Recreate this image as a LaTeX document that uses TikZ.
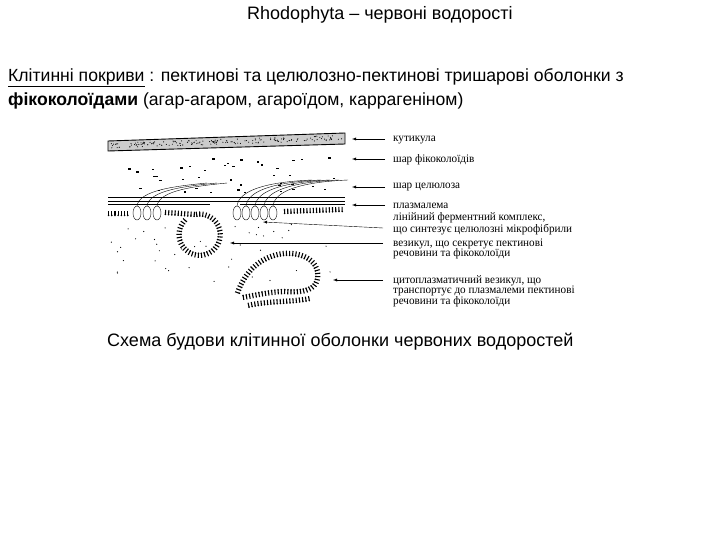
\documentclass[tikz,border=0pt]{standalone}
\usepackage{fontspec}
\setmainfont{Liberation Sans}
\newfontfamily\lab{Liberation Serif}
\usetikzlibrary{decorations.markings}
\begin{document}
\begin{tikzpicture}[x=1pt,y=-1pt,
  lbl/.style={anchor=west,font=\lab\fontsize{11.5}{10.5}\selectfont,align=left,inner sep=0,xscale=0.97},
  arr/.style={-latex,thin},
  txt/.style={anchor=west,font=\fontsize{17.6}{20}\selectfont,inner sep=0},
  ticks/.style={decorate,decoration={markings,mark=between positions 0 and 1 step 3.2pt with {\fill (0,-2.2pt) rectangle (1.1pt,2.2pt); \fill (0.55pt,-2.4pt) circle (0.9pt);}}}]
\useasboundingbox (0,0) rectangle (720,540);
\node[font=\fontsize{18}{20}\selectfont] (title) at (380,15) {Rhodophyta – червоні водорості};
\node[txt] (l1) at (8,78) {\underline{Клітинні покриви} : пектинові та целюлозно-пектинові тришарові оболонки з};
\node[txt] (l2) at (8,101) {\textbf{фікоколоїдами} (агар-агаром, агароїдом, каррагеніном)};
\node[txt,font=\fontsize{18}{20}\selectfont] (cap) at (107,342) {Схема будови клітинної оболонки червоних водоростей};
% cuticle
\draw[line width=0.9pt,fill=black!20] (108,141) -- (345,133) -- (345,144) -- (108,151) -- cycle;
\foreach \i in {0,...,160}{\pgfmathsetmacro\xx{110+rnd*233}\pgfmathsetmacro\yy{143+rnd*5-(\xx-108)*0.033}\fill (\xx,\yy) circle (0.55);}
% phycocolloid dashes
\foreach \i in {0,...,40}{\pgfmathsetmacro\xx{110+rnd*235}\pgfmathsetmacro\yy{157+rnd*35}\fill (\xx,\yy) rectangle +(2.5,1.2);}
% cellulose lines
\draw (108,197) -- (345,197);
\draw (108,201) -- (345,201);
\draw (108,204) -- (210,204);
\draw (240,204) -- (345,204);
% ovals
\foreach \x in {137,147,157}{\draw (\x,213) ellipse (4 and 7); \draw (\x,206) .. controls (\x+2,190) and (\x+40,186) .. (\x+70,183);}
\foreach \x in {237,246,255,264,273}{\draw (\x,213) ellipse (4 and 7); \draw (\x,206) .. controls (\x+2,190) and (\x+30,182) .. (\x+75,180);}
% plasmalemma ticks
\draw[ticks] (108,213) -- (128,213);
\draw[ticks] (165,212) -- (195,214);
\draw[ticks] (284,211) -- (343,209);
% secreting vesicle (ring)
\draw[ticks] (196,214) arc[start angle=-100,end angle=225,radius=21];
% cytoplasm dots
\foreach \i in {0,...,40}{\pgfmathsetmacro\xx{110+rnd*230}\pgfmathsetmacro\yy{222+rnd*60}\fill (\xx,\yy) circle (0.6);}
% cytoplasmic vesicle
\draw[ticks] (237,293) .. controls (245,270) and (262,255) .. (285,253) .. controls (305,252) and (320,262) .. (318,278) .. controls (316,292) and (300,293) .. (285,292) .. controls (270,292) and (255,296) .. (242,298);
\draw[ticks] (248,305) .. controls (270,300) and (290,302) .. (310,298);
% labels
\node[lbl] (k) at (393,140) {кутикула};
\node[lbl] (f) at (393,160) {шар фікоколоїдів};
\node[lbl] (c) at (393,187) {шар целюлоза};
\node[lbl] (p) at (393,206) {плазмалема};
\node[lbl] (e) at (393,224) {лінійний ферментний комплекс,\\що синтезує целюлозні мікрофібрили};
\node[lbl] (v) at (393,249) {везикул, що секретує пектинові\\речовини та фікоколоїди};
\node[lbl] (z) at (393,291) {цитоплазматичний везикул, що\\транспортує до плазмалеми пектинові\\речовини та фікоколоїди};
\coordinate (ka) at (352,139); \coordinate (fa) at (352,159); \coordinate (ca) at (352,187);
\coordinate (pa) at (352,205); \coordinate (ea) at (263,222); \coordinate (va) at (230,243); \coordinate (za) at (333,280);
\draw[arr] (385,139) -- (ka);
\draw[arr] (385,159) -- (fa);
\draw[arr] (385,187) -- (ca);
\draw[arr] (385,205) -- (pa);
\draw[arr] (383,228) -- (ea);
\draw[arr] (383,243) -- (va);
\draw[arr] (383,280) -- (za);
\end{tikzpicture}
\end{document}
